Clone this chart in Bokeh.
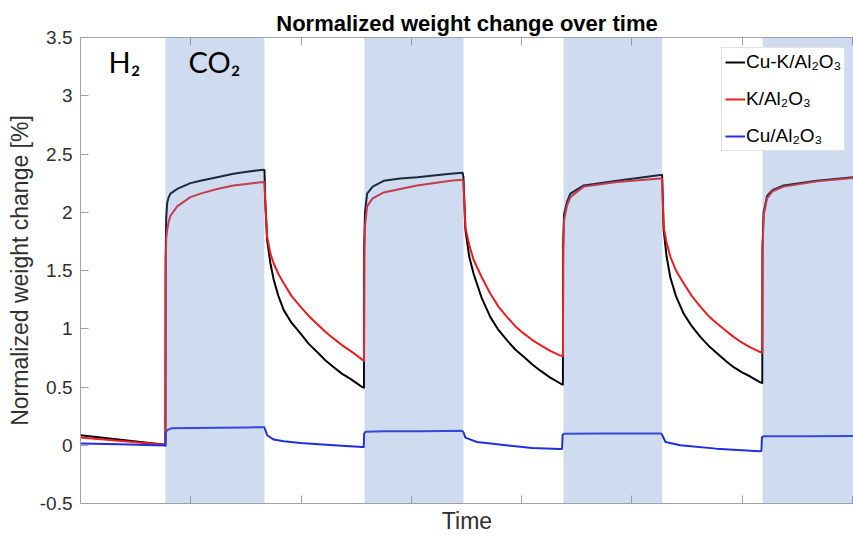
from bokeh.plotting import figure
from bokeh.models import (Range1d, FixedTicker, LinearAxis, BoxAnnotation,
                          Legend, LegendItem, Label, CustomJSTickFormatter)
from bokeh.embed import file_html
from bokeh.resources import INLINE

# Time axis in minutes; weight change in percent
t_min = [
    # H2, then first CO2 step
    0, 15.35, 15.41, 15.45, 15.55, 15.72, 16.0, 16.32, 17.53, 19.95, 21.76, 24.79, 27.74, 30.5, 33.24,
    # H2 regeneration 1
    33.36, 33.5, 33.85, 34.45, 35.05, 35.9, 36.86, 38.3, 39.89, 41.4, 42.92, 44.4, 45.93, 47.4,
    48.96, 50.0, 51.08, 51.42,
    # CO2 step 2
    51.46, 51.6, 51.98, 53.0, 54.99, 58.0, 61.05, 67.09, 69.3,
    # H2 regeneration 2
    69.45, 69.81, 70.5, 71.31, 72.8, 74.34, 75.8, 77.37, 78.9, 80.38, 81.9, 83.41, 85.2, 87.04, 87.5,
    # CO2 step 3
    87.54, 87.7, 88.25, 88.85, 91.26, 97.32, 105.17, 105.48,
    # H2 regeneration 3
    105.77, 106.3, 106.98, 108.0, 109.39, 110.9, 112.42, 113.9, 115.44, 117.0, 118.46, 120.0,
    121.49, 123.3, 123.66,
    # CO2 step 4
    123.7, 123.9, 124.52, 125.5, 127.53, 133.58, 140.2,
]

cuk_al2o3 = [
    0.086, 0.005, 0.0, 1.60, 1.95, 2.08, 2.13, 2.16, 2.20, 2.25, 2.27, 2.30, 2.33, 2.35, 2.365,
    2.36, 2.10, 1.76, 1.56, 1.42, 1.28, 1.16, 1.05, 0.96, 0.87, 0.80, 0.73, 0.67, 0.615,
    0.57, 0.535, 0.50, 0.495,
    1.70, 2.00, 2.16, 2.22, 2.27, 2.29, 2.30, 2.33, 2.34,
    2.30, 1.85, 1.62, 1.47, 1.26, 1.10, 0.99, 0.90, 0.82, 0.76, 0.695, 0.64, 0.58, 0.53, 0.52,
    1.70, 1.98, 2.09, 2.16, 2.23, 2.27, 2.32, 2.32,
    1.85, 1.62, 1.44, 1.28, 1.13, 1.02, 0.93, 0.855, 0.79, 0.725, 0.67, 0.625,
    0.59, 0.54, 0.535,
    1.70, 2.00, 2.14, 2.19, 2.23, 2.27, 2.30,
]

k_al2o3 = [
    0.066, 0.005, 0.0, 1.55, 1.78, 1.85, 1.92, 1.97, 2.05, 2.13, 2.16, 2.20, 2.23, 2.245, 2.26,
    2.26, 2.10, 1.79, 1.645, 1.56, 1.47, 1.39, 1.28, 1.19, 1.11, 1.04, 0.975, 0.915, 0.86,
    0.81, 0.775, 0.735, 0.725,
    1.60, 1.88, 2.05, 2.12, 2.17, 2.20, 2.23, 2.27, 2.28,
    2.25, 1.87, 1.72, 1.59, 1.44, 1.30, 1.19, 1.10, 1.02, 0.96, 0.905, 0.86, 0.81, 0.77, 0.765,
    1.65, 1.93, 2.06, 2.13, 2.22, 2.26, 2.29, 2.29,
    1.87, 1.74, 1.62, 1.50, 1.39, 1.28, 1.19, 1.11, 1.045, 0.985, 0.93, 0.88,
    0.84, 0.80, 0.795,
    1.65, 1.97, 2.12, 2.18, 2.22, 2.265, 2.295,
]

cu_t_min = [
    0, 7.0, 15.35, 15.41, 15.48, 15.72, 16.5, 20.0, 25.0, 30.0,
    33.3, 33.54, 33.85, 35.05, 36.86, 39.89, 45.93, 51.08, 51.37, 51.45,
    51.7, 55.0, 62.0, 69.2, 69.45, 69.81, 71.9, 76.0, 81.9, 87.0,
    87.34, 87.45, 87.7, 95.0, 105.3, 105.48, 106.1, 108.8, 115.3, 123.1,
    123.5, 123.6, 124.0, 132.0, 140.2,
]
cu_al2o3 = [
    0.015, 0.008, -0.002, -0.005, 0.11, 0.13, 0.145, 0.148, 0.150, 0.153,
    0.155, 0.13, 0.086, 0.049, 0.035, 0.020, 0.0, -0.015, -0.016, 0.10,
    0.115, 0.12, 0.12, 0.125, 0.11, 0.066, 0.028, 0.006, -0.023, -0.032,
    -0.03, 0.09, 0.098, 0.10, 0.10, 0.09, 0.028, 0.0, -0.029, -0.052,
    -0.05, 0.07, 0.077, 0.078, 0.08,
]

# CO2 exposure windows (minutes); H2 in between
co2_start = [15.41, 51.5, 87.6, 123.7]
co2_end = [33.36, 69.45, 105.5, 141.6]

x_ticks = [20, 40, 60, 80, 100, 120, 140]
y_ticks = [-0.5, 0, 0.5, 1, 1.5, 2, 2.5, 3, 3.5]
y_tick_labels = ["-0.5", "0", "0.5", "1", "1.5", "2", "2.5", "3", "3.5"]

series_labels = ["Cu-K/Al\u2082O\u2083", "K/Al\u2082O\u2083", "Cu/Al\u2082O\u2083"]

FONT = "Liberation Sans"
AXIS_GREY = "#a3a3a3"
TEXT_GREY = "#303030"

p = figure(width=853, height=536,
           x_range=Range1d(0, 140.2), y_range=Range1d(-0.5, 3.5),
           output_backend="svg", toolbar_location=None,
           title="Normalized weight change over time",
           min_border_left=80, min_border_right=0,
           min_border_top=37, min_border_bottom=33,
           outline_line_color=None,
           background_fill_color="white", border_fill_color="white")

p.title.align = "center"
p.title.offset = 5
p.title.text_font = FONT
p.title.text_font_size = "22px"
p.title.text_font_style = "bold"
p.title.text_color = "black"
p.title.standoff = 4

p.xgrid.visible = False
p.ygrid.visible = False

# time axis carries tick marks only
no_labels = CustomJSTickFormatter(code="return ''")

xa = p.xaxis[0]
xa.ticker = FixedTicker(ticks=x_ticks)
xa.formatter = no_labels
xa.major_label_standoff = 0
xa.axis_label = "Time"
xa.axis_label_text_font = FONT
xa.axis_label_text_font_size = "23px"
xa.axis_label_text_font_style = "normal"
xa.axis_label_text_color = TEXT_GREY
xa.axis_label_standoff = 4

ya = p.yaxis[0]
ya.ticker = FixedTicker(ticks=y_ticks)
ya.major_label_overrides = dict(zip(y_ticks, y_tick_labels))
ya.major_label_text_font = FONT
ya.major_label_text_font_size = "19px"
ya.major_label_text_color = TEXT_GREY
ya.major_label_standoff = 8
ya.axis_label = "Normalized weight change [%]"
ya.axis_label_text_font = FONT
ya.axis_label_text_font_size = "23px"
ya.axis_label_text_font_style = "normal"
ya.axis_label_text_color = TEXT_GREY
ya.axis_label_standoff = 4

top_axis = LinearAxis(ticker=FixedTicker(ticks=x_ticks), formatter=no_labels,
                      major_label_standoff=0)
p.add_layout(top_axis, "above")

for ax in (xa, ya, top_axis):
    ax.axis_line_color = AXIS_GREY
    ax.axis_line_width = 1
    ax.major_tick_line_color = AXIS_GREY
    ax.major_tick_in = 8
    ax.major_tick_out = 0
    ax.minor_tick_line_color = None

r_cuk = p.line(t_min, cuk_al2o3, line_color="black", line_width=2, line_join="round")
r_k = p.line(t_min, k_al2o3, line_color="#ee1c1c", line_width=2, line_join="round")
r_cu = p.line(cu_t_min, cu_al2o3, line_color="#1f2ee0", line_width=2, line_join="round")

# translucent CO2 windows laid over the traces
for s, e in zip(co2_start, co2_end):
    p.add_layout(BoxAnnotation(left=s, right=e, fill_color="#5f87ca",
                               fill_alpha=0.3, line_alpha=0))

gas_font = "Lato"
p.add_layout(Label(x=5.1, y=3.295, text="H\u2082", text_font=gas_font,
                   text_font_size="29px", text_color="black",
                   text_baseline="alphabetic"))
p.add_layout(Label(x=19.6, y=3.295, text="CO\u2082", text_font=gas_font,
                   text_font_size="29px", text_color="black",
                   text_baseline="alphabetic"))

legend = Legend(items=[LegendItem(label=lbl, renderers=[r])
                       for lbl, r in zip(series_labels, [r_cuk, r_k, r_cu])],
                location=(641, 352), margin=0, padding=3, spacing=15,
                glyph_width=20, glyph_height=20, label_standoff=1,
                label_text_font=FONT, label_text_font_size="19px",
                label_text_color="black",
                border_line_color="#c4c4c4", border_line_width=1,
                background_fill_color="white", background_fill_alpha=1)
p.add_layout(legend)

open("out.html", "w").write(file_html(p, INLINE))
